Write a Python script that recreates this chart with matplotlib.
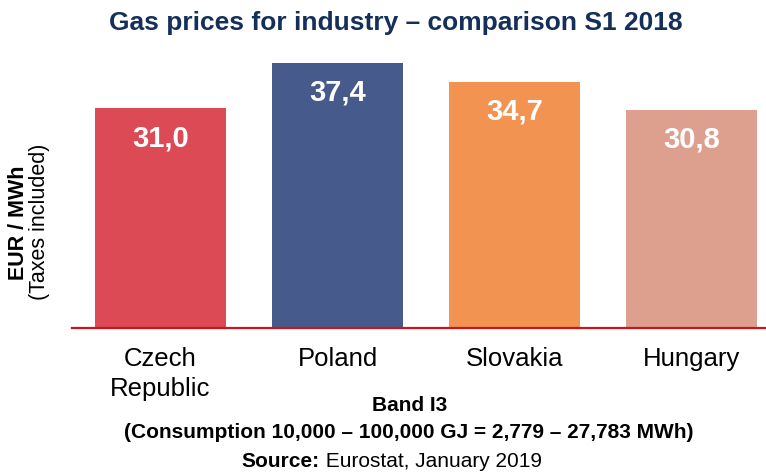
import matplotlib
matplotlib.use("Agg")
import matplotlib.pyplot as plt

plt.rcParams['font.family'] = ['Liberation Sans', 'DejaVu Sans']

# dane
countries = ["Czech\nRepublic", "Poland", "Slovakia", "Hungary"]
prices = [31.0, 37.4, 34.7, 30.8]
price_labels = ["31,0", "37,4", "34,7", "30,8"]
colors = ["#dc4a55", "#475a8c", "#f29352", "#dea08e"]

fig = plt.figure(figsize=(7.66, 4.73), dpi=100)
ax = fig.add_axes([72 / 766, 145 / 473, 1 - 72 / 766, 265 / 473])

xs = list(range(len(countries)))
bars = ax.bar(xs, prices, width=0.74, color=colors, zorder=2)

# etykiety wartosci wewnatrz slupkow
for bar, txt in zip(bars, price_labels):
    ax.annotate(txt, (bar.get_x() + bar.get_width() / 2, bar.get_height()),
                xytext=(0, -21.5), textcoords='offset points',
                ha='center', va='center', color='white',
                fontsize=21, fontweight='bold')

ax.set_xlim(-0.5, 3.42)
ax.set_ylim(0, max(prices))
ax.set_yticks([])
ax.set_xticks(xs)
ax.set_xticklabels(countries, fontsize=18.5, linespacing=1.32)
ax.tick_params(axis='x', length=0, pad=13.5)

for side in ['top', 'right', 'left']:
    ax.spines[side].set_visible(False)
ax.spines['bottom'].set_color('#d0141c')
ax.spines['bottom'].set_linewidth(1.6)
ax.spines['bottom'].set_zorder(3)

# tytul
fig.text(396 / 766, 1 - 23 / 473, "Gas prices for industry – comparison S1 2018",
         ha='center', va='center', fontsize=19, fontweight='bold', color='#14305a')

# opis osi y
fig.text(19 / 766, 1 - 223 / 473, "EUR / MWh", rotation=90, ha='center', va='center',
         fontsize=15.5, fontweight='bold')
fig.text(40 / 766, 1 - 222 / 473, "(Taxes included)", rotation=90, ha='center', va='center',
         fontsize=15.5)

# opis na dole
fig.text(410 / 766, 1 - 405 / 473, "Band I3", ha='center', va='center',
         fontsize=15, fontweight='bold')
fig.text(409 / 766, 1 - 432 / 473, "(Consumption 10,000 – 100,000 GJ = 2,779 – 27,783 MWh)",
         ha='center', va='center', fontsize=15, fontweight='bold')
fig.text(320 / 766, 1 - 461 / 473, "Source:", ha='right', va='center',
         fontsize=15, fontweight='bold')
fig.text(320 / 766, 1 - 461 / 473, " Eurostat, January 2019", ha='left', va='center',
         fontsize=15)

fig.savefig("out.png", dpi=100)
